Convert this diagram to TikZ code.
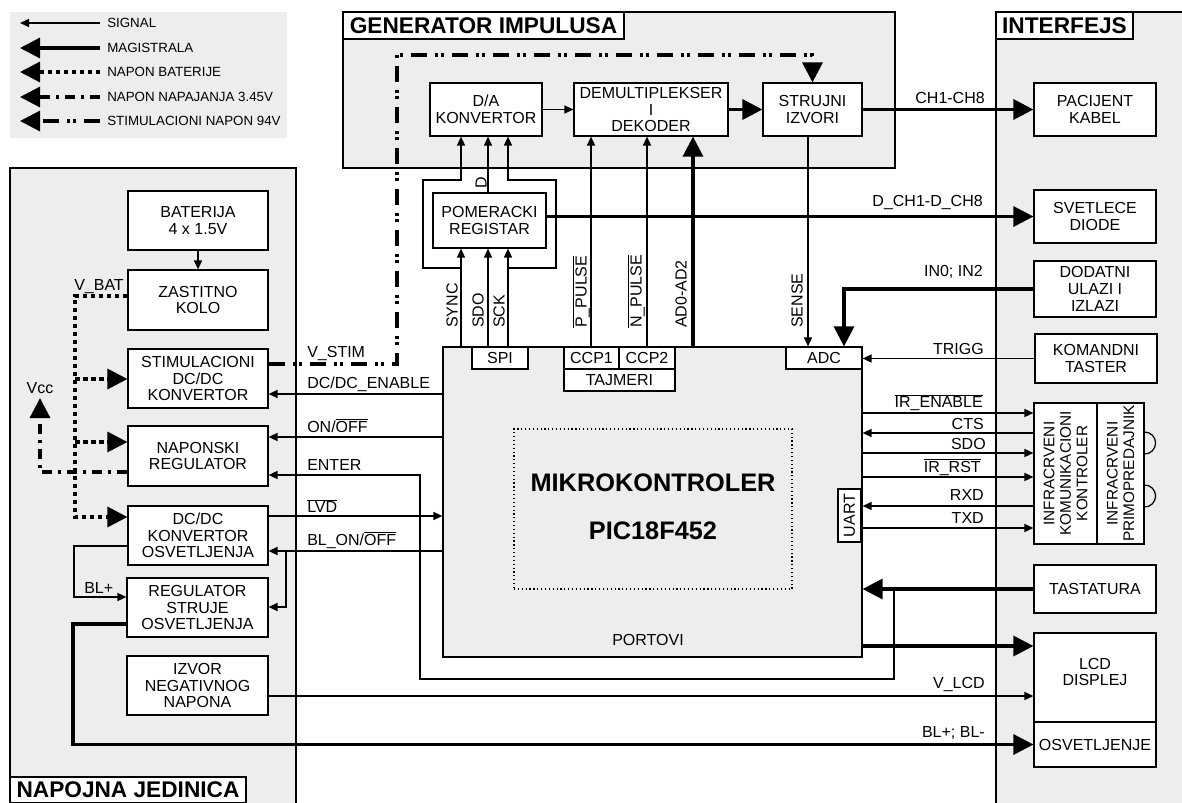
\documentclass[tikz,border=0pt]{standalone}
\usepackage{fontspec}
\setmainfont{Liberation Sans}
\usetikzlibrary{arrows.meta}
\definecolor{grp}{RGB}{237,237,237}
\newcommand{\ovl}[1]{\ensuremath{\overline{\mbox{#1}}}}
\newcommand{\bx}[7][]{\node[box,#1,minimum width={(#5-#3)*0.75pt},minimum height={(#6-#4)*0.75pt}] (#2) at ({(#3+#5)/2},{(#4+#6)/2}) {#7};}
\tikzset{
 box/.style={draw, fill=white, line width=0.9pt, inner sep=0pt, align=center, font=\fontsize{12}{12.5}\selectfont},
 grpbox/.style={box, fill=grp},
 ttl/.style={box, font=\fontsize{17}{18}\selectfont\bfseries},
 lab/.style={inner sep=0pt, font=\fontsize{12}{12.5}\selectfont, text height=8.6pt, text depth=0pt},
 rlab/.style={lab, rotate=90, anchor=west},
 rot/.style={rotate=90, inner sep=0pt, align=center, font=\fontsize{11.5}{12.4}\selectfont},
 leg/.style={inner sep=0pt, font=\fontsize{10}{11}\selectfont, text height=7.2pt, text depth=0pt, anchor=west},
 big/.style={inner sep=0pt, font=\fontsize{19}{20}\selectfont\bfseries},
 sigl/.style={line width=1.1pt},
 sig/.style={sigl, -{Triangle[length=6.75pt,width=6pt]}},
 bus/.style={line width=2.4pt, -{Triangle[length=15pt,width=15pt]}},
 batst/.style={line width=2.4pt, dash pattern=on 3.5pt off 2.5pt, -{Triangle[length=15pt,width=15pt]}},
 vccst/.style={line width=2.4pt, dash pattern=on 7.5pt off 4.5pt on 2.25pt off 4.5pt, -{Triangle[length=15pt,width=15pt]}},
 stimst/.style={line width=2.4pt, dash pattern=on 12pt off 6pt on 2.25pt off 2.25pt on 2.25pt off 6pt, -{Triangle[length=15pt,width=15pt]}},
}
\begin{document}
\begin{tikzpicture}[x=0.75pt,y=-0.75pt]
\useasboundingbox (0,0) rectangle (1182,803);
\clip (0,0) rectangle (1182,803);
% legend
\fill[grp] (10,12) rectangle (287,138);
\node[leg] (l1) at (107,23) {SIGNAL};
\node[leg] (l2) at (107,48) {MAGISTRALA};
\node[leg] (l3) at (107,72) {NAPON BATERIJE};
\node[leg] (l4) at (107,97) {NAPON NAPAJANJA 3.45V};
\node[leg] (l5) at (107,121) {STIMULACIONI NAPON 94V};
\coordinate (e1) at (20,23);
\coordinate (e2) at (20,48);
\coordinate (e3) at (20,72);
\coordinate (e4) at (20,97);
\coordinate (e5) at (20,121);
\draw[sig] ([xshift=-5pt]l1.west) -- (e1);
\draw[bus] ([xshift=-5pt]l2.west) -- (e2);
\draw[batst] ([xshift=-5pt]l3.west) -- (e3);
\draw[vccst] ([xshift=-5pt]l4.west) -- (e4);
\draw[stimst] ([xshift=-5pt]l5.west) -- (e5);
% groups
\bx[grpbox]{gen}{343}{12}{895}{168}{}
\bx[grpbox]{intf}{996}{12}{1200}{820}{}
\bx[grpbox]{napj}{10}{168}{296}{820}{}
\bx[ttl]{gent}{343}{12}{624}{39}{GENERATOR IMPULUSA}
\bx[ttl]{intt}{996}{12}{1133}{39}{INTERFEJS}
\bx[ttl]{napt}{10}{777}{246}{803}{NAPOJNA JEDINICA}
% generator boxes
\bx{da}{430}{83}{542}{136}{D/A\\KONVERTOR}
\bx{dmx}{574}{83}{728}{136}{DEMULTIPLEKSER\\I\\DEKODER}
\bx{str}{763}{83}{862}{136}{STRUJNI\\IZVORI}
\bx{reg}{433}{193}{546}{248}{POMERACKI\\REGISTAR}
% interface boxes
\bx{pac}{1034}{83}{1156}{136}{PACIJENT\\KABEL}
\bx{svd}{1034}{190}{1156}{243}{SVETLECE\\DIODE}
\bx{dod}{1034}{261}{1156}{317}{DODATNI\\ULAZI I\\IZLAZI}
\bx{kom}{1035}{334}{1157}{383}{KOMANDNI\\TASTER}
\bx{irk}{1034}{403}{1097}{544}{}
\bx{irp}{1097}{403}{1144}{544}{}
\node[rot] (irkt) at (irk.center) {INFRACRVENI\\KOMUNIKACIONI\\KONTROLER};
\node[rot] (irpt) at (irp.center) {INFRACRVENI\\PRIMOPREDAJNIK};
\draw[line width=0.9pt] (irp.east |- 0,432) arc[start angle=90,end angle=-90,radius=8.25pt];
\draw[line width=0.9pt] (irp.east |- 0,485) arc[start angle=90,end angle=-90,radius=8.25pt];
\bx{tas}{1034}{565}{1156}{613}{TASTATURA}
\bx{lcd}{1034}{633}{1156}{722}{}
\node[box, draw=none, fill=none] (lcdt) at (1095,672) {LCD\\DISPLEJ};
\bx{osv}{1034}{722}{1156}{767}{OSVETLJENJE}
% power boxes
\bx{bat}{128}{191}{268}{250}{BATERIJA\\4 x 1.5V}
\bx{zas}{128}{270}{268}{330}{ZASTITNO\\KOLO}
\bx{stim}{128}{349}{268}{408}{STIMULACIONI\\DC/DC\\KONVERTOR}
\bx{nap}{128}{426}{268}{486}{NAPONSKI\\REGULATOR}
\bx{dco}{128}{506}{268}{565}{DC/DC\\KONVERTOR\\OSVETLJENJA}
\bx{reg2}{127}{578}{268}{637}{REGULATOR\\STRUJE\\OSVETLJENJA}
\bx{izv}{127}{656}{268}{715}{IZVOR\\NEGATIVNOG\\NAPONA}
% microcontroller
\bx[grpbox]{mc}{443}{347}{862}{657}{}
\bx[dotted, fill=none, line width=0.8pt]{dotb}{514}{429}{792}{589}{}
\node[big] (mct) at (653,483) {MIKROKONTROLER};
\node[big] (pic) at (653,531) {PIC18F452};
\bx{spi}{472}{347}{528}{369}{SPI}
\bx{ccp1}{564}{347}{619}{369}{CCP1}
\bx{ccp2}{619}{347}{675}{369}{CCP2}
\bx{taj}{564}{369}{675}{391}{TAJMERI}
\bx{adc}{786}{347}{862}{369}{ADC}
\bx{uart}{838}{489}{861}{542}{}
\node[rot, font=\fontsize{12}{12.5}\selectfont] (uartt) at (uart.center) {UART};
\node[lab] (portovi) at (648,640) {PORTOVI};
% generator wires
\draw[sig] (da.east) -- (dmx.west);
\draw[bus] (dmx.east) -- (str.west);
\draw[bus] (str.east) -- (pac.west);
\draw[sig] (mc.north -| 461,0) -- (reg.south -| 461,0);
\draw[sig] (spi.north -| 488,0) -- (reg.south -| 488,0);
\draw[sig] (spi.north -| 508,0) -- (reg.south -| 508,0);
\draw[sig] (461,268) -- (423,268) -- (423,180) -- (461,180) -- (da.south -| 461,0);
\draw[sig] (508,268) -- (556,268) -- (556,180) -- (508,180) -- (da.south -| 508,0);
\draw[sig] (reg.north -| 488,0) -- (da.south -| 488,0);
\draw[sig] (ccp1.north -| 591,0) -- (dmx.south -| 591,0);
\draw[sig] (ccp2.north -| 647,0) -- (dmx.south -| 647,0);
\draw[bus] (mc.north -| 693,0) -- (dmx.south -| 693,0);
\draw[sig] (str.south -| 808,0) -- (adc.north -| 808,0);
\draw[bus] (reg.east |- svd.west) -- (svd.west);
\draw[bus] (dod.west) -- (844,0 |- dod.west) -- (adc.north -| 844,0);
\draw[sig] (kom.west) -- (adc.east |- kom.west);
% IR wires
\draw[sig] (mc.east |- 0,413) -- (irk.west |- 0,413);
\draw[sig] (irk.west |- 0,433) -- (mc.east |- 0,433);
\draw[sig] (mc.east |- 0,453) -- (irk.west |- 0,453);
\draw[sig] (mc.east |- 0,477) -- (irk.west |- 0,477);
\draw[sig] (irk.west |- 0,506) -- (mc.east |- 0,506);
\draw[sig] (mc.east |- 0,528) -- (irk.west |- 0,528);
% keyboard, lcd
\draw[bus] (tas.west) -- (mc.east |- tas.west);
\draw[sig] (894,0 |- tas.west) -- (894,679) -- (420,679) -- (420,475) -- (nap.east |- 0,475);
\draw[bus] (mc.east |- 0,646) -- (lcd.west |- 0,646);
\draw[sig] (izv.east |- 0,696) -- (lcd.west |- 0,696);
\draw[bus] (reg2.west |- 0,624) -- (73,624) -- (73,0 |- osv.west) -- (osv.west);
% power wires
\node[lab] (vcc) at (40,388) {Vcc};
\draw[sig] (bat.south) -- (zas.north);
\draw[batst] (zas.west |- 0,296) -- (75,296) -- (75,517) -- (dco.west |- 0,517);
\draw[batst] (75,379) -- (stim.west |- 0,379);
\draw[batst] (75,442) -- (nap.west |- 0,442);
\draw[vccst] (nap.west |- 0,472) -- (40,472) -- ([yshift=-3pt]vcc.south);
\draw[stimst] (stim.east |- 0,364) -- (397,364) -- (397,55) -- (str.north |- 0,55) -- (str.north);
\draw[sig] (mc.west |- 0,394) -- (stim.east |- 0,394);
\draw[sig] (mc.west |- 0,437) -- (nap.east |- 0,437);
\draw[sig] (dco.east |- 0,516) -- (mc.west |- 0,516);
\draw[sig] (mc.west |- 0,551) -- (dco.east |- 0,551);
\draw[sig] (286,551) -- (286,607) -- (reg2.east |- 0,607);
\draw[sig] (dco.west |- 0,546) -- (74,546) -- (74,597) -- (reg2.west |- 0,597);
% wire labels
\node[lab, anchor=west] (tvstim) at (307,352) {V\_STIM};
\node[lab, anchor=west] (tdcen) at (307,383) {DC/DC\_ENABLE};
\node[lab, anchor=west] (tonoff) at (307,427) {ON/\ovl{OFF}};
\node[lab, anchor=west] (tenter) at (307,465) {ENTER};
\node[lab, anchor=west] (tlvd) at (307,507) {\ovl{LVD}};
\node[lab, anchor=west] (tblon) at (307,540) {BL\_ON/\ovl{OFF}};
\node[lab, anchor=west] (tvbat) at (74,285) {V\_BAT};
\node[lab, anchor=west] (tblp) at (84,588) {BL+};
\node[lab, anchor=east] (tch) at (985,98) {CH1-CH8};
\node[lab, anchor=east] (tdch) at (983,201) {D\_CH1-D\_CH8};
\node[lab, anchor=east] (tin) at (983,271) {IN0; IN2};
\node[lab, anchor=east] (ttrig) at (984,349) {TRIGG};
\node[lab, anchor=east] (tiren) at (983,402) {\ovl{IR\_ENABLE}};
\node[lab, anchor=east] (tcts) at (984,424) {CTS};
\node[lab, anchor=east] (tsdo2) at (986,444) {SDO};
\node[lab, anchor=east] (tirrst) at (981,467) {\ovl{IR\_RST}};
\node[lab, anchor=east] (trxd) at (984,495) {RXD};
\node[lab, anchor=east] (ttxd) at (984,518) {TXD};
\node[lab, anchor=east] (tvlcd) at (985,683) {V\_LCD};
\node[lab, anchor=east] (tbl) at (985,732) {BL+; BL-};
\node[rlab] (tsync) at (452,328) {SYNC};
\node[rlab] (tsdo) at (478,328) {SDO};
\node[rlab] (tsck) at (499,328) {SCK};
\node[rlab] (tpp) at (581,328) {\ovl{P\_PULSE}};
\node[rlab] (tnp) at (636,328) {\ovl{N\_PULSE}};
\node[rlab] (tad) at (681,328) {AD0-AD2};
\node[rlab] (tsense) at (797,328) {SENSE};
\node[lab, rotate=90] (tdd) at (481,183) {D};
\end{tikzpicture}
\end{document}
